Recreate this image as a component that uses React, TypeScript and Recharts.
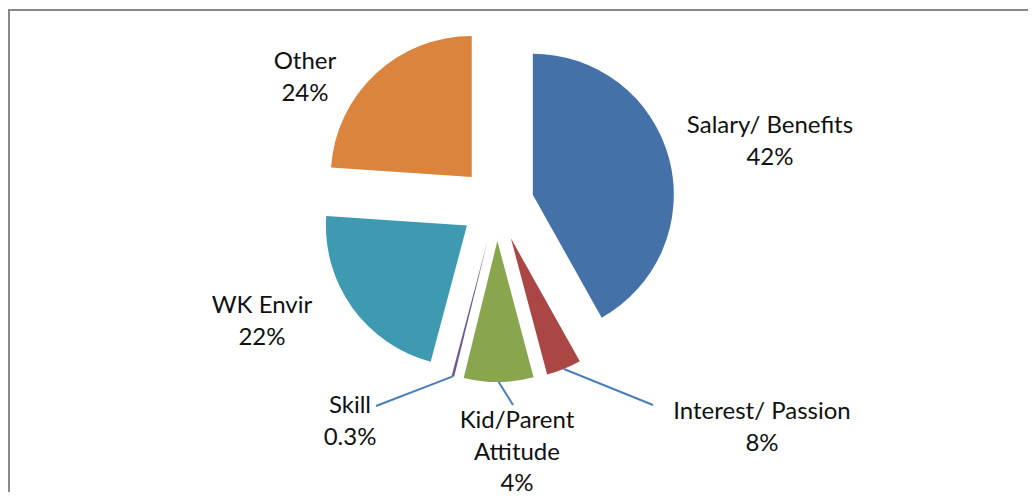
import { Cell, Pie, PieChart } from "recharts";

// slice sizes as drawn (the printed % labels in the source don't all match the geometry)
const categories = [
  "Salary/ Benefits",
  "Interest/ Passion",
  "Kid/Parent Attitude",
  "Skill",
  "WK Envir",
  "Other",
];
const shares = [42, 4, 8, 0.3, 22, 24];
const shareLabels = ["42%", "8%", "4%", "0.3%", "22%", "24%"];

const COLORS = ["#4472A8", "#AA4643", "#89A54E", "#71588F", "#3D9AB0", "#DB843D"];
const TEXT = "#111";
const LEADER = "#4A7EBB";
const FONT = "Lato, 'Open Sans', sans-serif";
const FONT_SIZE = 24;
const LINE_H = 31.7;
const EXPLODE = 37;

// label placement relative to pie centre (text lines, first baseline, optional leader end)
const labelSpots: { dx: number; dy: number; lines: string[]; leader?: [number, number] }[] = [
  { dx: 273, dy: -71, lines: ["Salary/ Benefits"] },
  { dx: 265, dy: 215, lines: ["Interest/ Passion"], leader: [156, 201] },
  { dx: 20, dy: 224, lines: ["Kid/Parent", "Attitude"], leader: [16, 201] },
  { dx: -147, dy: 209, lines: ["Skill"], leader: [-121, 202] },
  { dx: -235, dy: 109, lines: ["WK Envir"] },
  { dx: -192, dy: -135, lines: ["Other"] },
];

const total = shares.reduce((a, b) => a + b, 0);
const explodeOffsets = shares.map((v, i) => {
  const before = shares.slice(0, i).reduce((a, b) => a + b, 0);
  const theta = ((before + v / 2) / total) * 2 * Math.PI;
  return { x: EXPLODE * Math.sin(theta), y: -EXPLODE * Math.cos(theta) };
});

const data = categories.map((name, i) => ({ name, value: shares[i] }));

const renderLabel = (props: any) => {
  const { cx, cy, index, midAngle, outerRadius } = props;
  const spot = labelSpots[index];
  const off = explodeOffsets[index];
  const lines = [...spot.lines, shareLabels[index]];
  let leader = null;
  if (spot.leader) {
    const rad = (midAngle * Math.PI) / 180;
    const sx = cx + off.x + outerRadius * Math.cos(rad);
    const sy = cy + off.y - outerRadius * Math.sin(rad);
    leader = (
      <line
        x1={sx}
        y1={sy}
        x2={cx + spot.leader[0]}
        y2={cy + spot.leader[1]}
        stroke={LEADER}
        strokeWidth={2}
      />
    );
  }
  const tx = cx + spot.dx;
  return (
    <g key={`label-${index}`}>
      {leader}
      <text
        x={tx}
        y={cy + spot.dy}
        textAnchor="middle"
        fontFamily={FONT}
        fontSize={FONT_SIZE}
        fill={TEXT}
      >
        {lines.map((t, k) => (
          <tspan key={k} x={tx} dy={k === 0 ? 0 : LINE_H}>
            {t}
          </tspan>
        ))}
      </text>
    </g>
  );
};

export default function App() {
  return (
    <div
      style={{
        position: "relative",
        top: 1,
        width: 1026,
        height: 490,
        marginBottom: -8,
        borderTop: "2px solid #888",
        borderLeft: "2px solid #888",
      }}
    >
      <PieChart width={1026} height={490} margin={{ top: 0, right: 0, bottom: 0, left: 0 }}>
        <Pie
          data={data}
          dataKey="value"
          nameKey="name"
          cx={487}
          cy={193}
          innerRadius={0}
          outerRadius={141}
          startAngle={90}
          endAngle={-270}
          stroke="none"
          label={renderLabel}
          labelLine={false}
          isAnimationActive={false}
        >
          {data.map((d, i) => (
            <Cell
              key={d.name}
              fill={COLORS[i]}
              transform={`translate(${explodeOffsets[i].x} ${explodeOffsets[i].y})`}
            />
          ))}
        </Pie>
      </PieChart>
    </div>
  );
}
